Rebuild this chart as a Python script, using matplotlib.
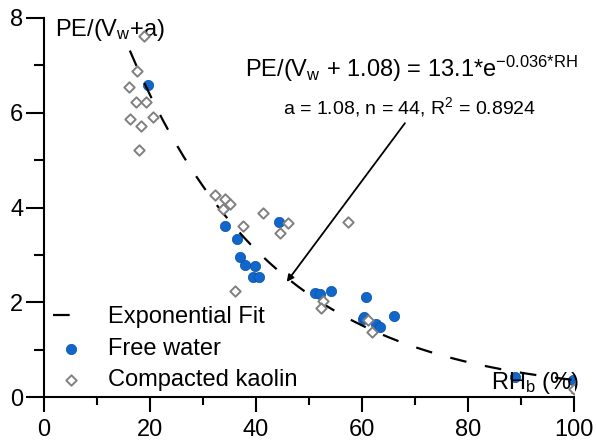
import numpy as np
import matplotlib
matplotlib.use('Agg')
import matplotlib.pyplot as plt
from matplotlib.ticker import MultipleLocator

plt.rcParams['font.family'] = ['Liberation Sans', 'DejaVu Sans']
plt.rcParams['mathtext.fontset'] = 'custom'
plt.rcParams['mathtext.rm'] = 'Liberation Sans'
plt.rcParams['mathtext.it'] = 'Liberation Sans:italic'
plt.rcParams['mathtext.bf'] = 'Liberation Sans:bold'

# Free water points (RH_b %, PE/(Vw+a))
free_rh = [19.6, 34.2, 36.5, 36.9, 38.0, 39.8, 39.4, 40.6, 44.4,
           51.1, 52.1, 54.2, 60.7, 60.1, 60.4, 62.6, 63.4, 66.1,
           88.9, 99.9]
free_pe = [6.58, 3.61, 3.34, 2.96, 2.79, 2.76, 2.54, 2.54, 3.70,
           2.20, 2.17, 2.24, 2.11, 1.64, 1.68, 1.55, 1.47, 1.70,
           0.43, 0.36]

# Compacted kaolin points
kaol_rh = [18.9, 17.6, 16.1, 17.4, 19.2, 20.5, 16.2, 18.3, 17.9,
           32.3, 34.2, 35.1, 33.8, 37.5, 41.4, 46.1, 44.5, 36.0,
           57.4, 52.7, 52.2, 61.1, 61.8, 100.0]
kaol_pe = [7.62, 6.88, 6.55, 6.22, 6.22, 5.92, 5.87, 5.73, 5.22,
           4.27, 4.18, 4.08, 3.97, 3.61, 3.89, 3.68, 3.47, 2.24,
           3.69, 2.03, 1.87, 1.63, 1.37, 0.17]

# Exponential fit PE/(Vw+1.08) = 13.1*exp(-0.036*RH)
fit_a = 13.1
fit_k = 0.036
fit_range = (16.2, 100)

fig = plt.figure(figsize=(5.96, 4.43), dpi=100)
ax = fig.add_axes([44 / 596, 1 - 397 / 443, 530 / 596, 379 / 443])

fit_x = np.linspace(fit_range[0], fit_range[1], 200)
fit_y = fit_a * np.exp(-fit_k * fit_x)

ax.scatter(free_rh, free_pe, s=55, color='#1166cc', edgecolors='#0b4f9e',
           linewidths=0.5, zorder=2, label='Free water')
ax.plot(fit_x, fit_y, color='black', lw=1.6, dashes=(7.5, 8.5), zorder=3,
        label='Exponential Fit')
ax.scatter(kaol_rh, kaol_pe, s=28, marker='D', facecolors='white',
           edgecolors='#808080', linewidths=1.4, zorder=4,
           label='Compacted kaolin')

ax.set_xlim(0, 100)
ax.set_ylim(0, 8)
for s in ['top', 'right']:
    ax.spines[s].set_visible(False)
for s in ['left', 'bottom']:
    ax.spines[s].set_linewidth(1.5)

ax.xaxis.set_major_locator(MultipleLocator(20))
ax.xaxis.set_minor_locator(MultipleLocator(10))
ax.yaxis.set_major_locator(MultipleLocator(2))
ax.yaxis.set_minor_locator(MultipleLocator(1))
ax.tick_params(axis='x', which='major', direction='out', length=11, width=1.5,
               labelsize=17, pad=5)
ax.tick_params(axis='x', which='minor', direction='out', length=6, width=1.5)
ax.tick_params(axis='y', which='major', direction='out', length=13, width=1.5,
               labelsize=17, pad=2)
ax.tick_params(axis='y', which='minor', direction='out', length=7, width=1.5)

# axis titles placed inside the frame
ax.text(2.1, 7.75, r'PE/(V$_\mathrm{w}$+a)', fontsize=17, ha='left', va='center')
ax.text(101, 0.3, r'RH$_\mathrm{b}$ (%)', fontsize=17, ha='right', va='center')

# fit equation and stats
ax.text(69.4, 6.92,
        r'PE/(V$_\mathrm{w}$ + 1.08) = 13.1*e$^{\mathrm{{-}0.036{*}RH}}$',
        fontsize=17, ha='center', va='center')
ax.text(69.0, 6.12, r'a = 1.08, n = 44, R$^{2}$ = 0.8924',
        fontsize=14, ha='center', va='center')
ax.annotate('', xy=(45.8, 2.43), xytext=(68.1, 5.78),
            arrowprops=dict(arrowstyle='-|>', color='black', lw=1.3,
                            mutation_scale=10, shrinkA=0, shrinkB=0))

handles, labels = ax.get_legend_handles_labels()
order = [labels.index('Exponential Fit'), labels.index('Free water'),
         labels.index('Compacted kaolin')]
ax.legend([handles[i] for i in order], [labels[i] for i in order],
          loc='lower left', bbox_to_anchor=(0.017, 0.015), frameon=False,
          fontsize=17, handlelength=1.5, handletextpad=0.85,
          labelspacing=0.4, borderpad=0, borderaxespad=0)

fig.savefig('out.png', dpi=100)
